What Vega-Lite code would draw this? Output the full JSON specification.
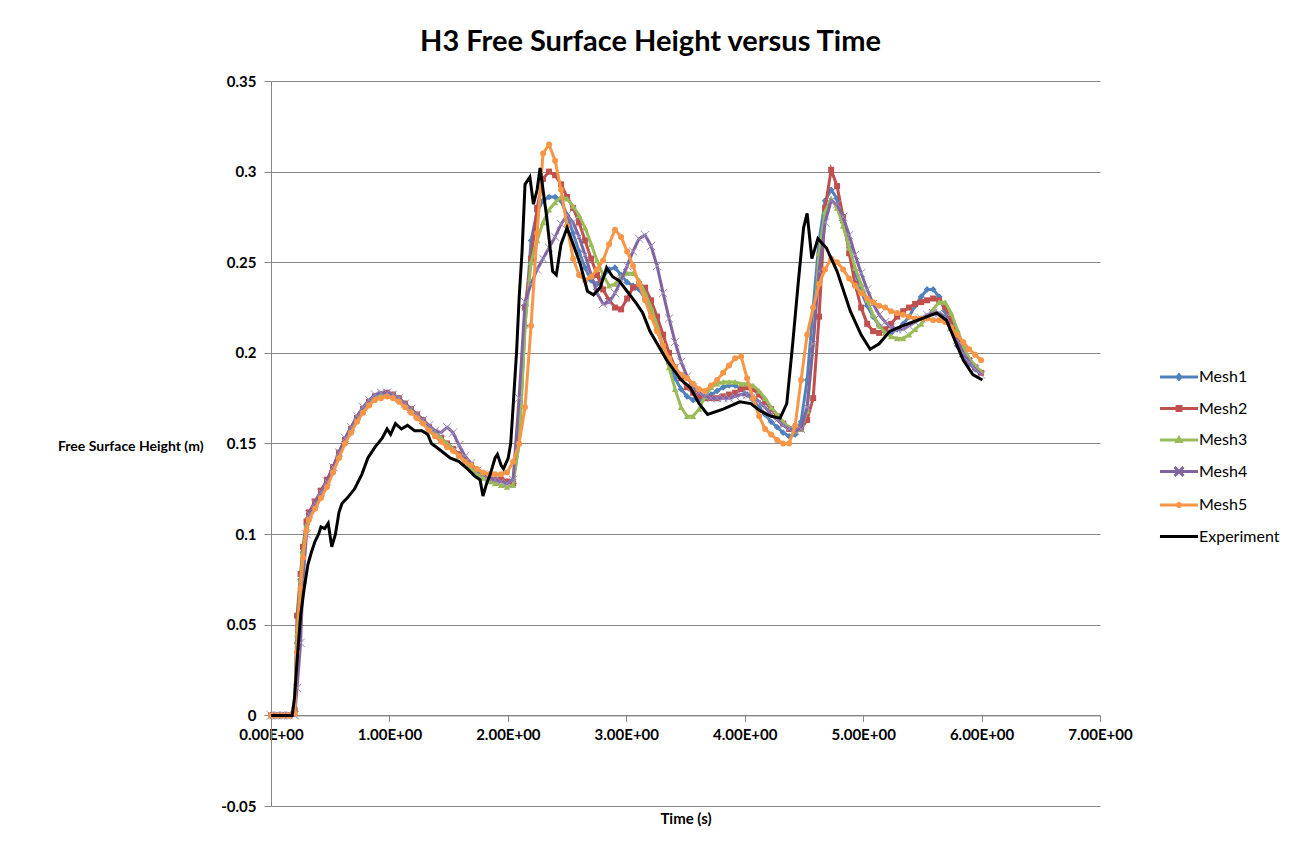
{
"$schema":"https://vega.github.io/schema/vega-lite/v6.json",
"width":829,"height":725,
"autosize":{"type":"none"},
"padding":{"left":271,"top":81,"right":198,"bottom":43},
"background":"white",
"config":{"font":"Lato","view":{"stroke":null}},
"title":{"text":"H3 Free Surface Height versus Time","fontSize":29,"fontWeight":"bold","font":"Lato","color":"#000000","anchor":"middle","dx":-35,"offset":17},
"datasets":{"d":[
{"s":"Mesh1","t":0,"v":0},{"s":"Mesh1","t":0.05,"v":0},{"s":"Mesh1","t":0.1,"v":0},{"s":"Mesh1","t":0.15,"v":0},{"s":"Mesh1","t":0.2,"v":0.002},{"s":"Mesh1","t":0.22,"v":0.04},{"s":"Mesh1","t":0.25,"v":0.075},{"s":"Mesh1","t":0.27,"v":0.09},{"s":"Mesh1","t":0.3,"v":0.105},
{"s":"Mesh1","t":0.321,"v":0.110},{"s":"Mesh1","t":0.372,"v":0.116},{"s":"Mesh1","t":0.422,"v":0.122},{"s":"Mesh1","t":0.473,"v":0.128},{"s":"Mesh1","t":0.524,"v":0.136},{"s":"Mesh1","t":0.574,"v":0.144},{"s":"Mesh1","t":0.625,"v":0.152},{"s":"Mesh1","t":0.676,"v":0.158},{"s":"Mesh1","t":0.726,"v":0.164},{"s":"Mesh1","t":0.777,"v":0.169},{"s":"Mesh1","t":0.828,"v":0.173},{"s":"Mesh1","t":0.878,"v":0.176},{"s":"Mesh1","t":0.929,"v":0.177},{"s":"Mesh1","t":0.98,"v":0.178},{"s":"Mesh1","t":1.03,"v":0.177},{"s":"Mesh1","t":1.081,"v":0.175},{"s":"Mesh1","t":1.132,"v":0.172},{"s":"Mesh1","t":1.182,"v":0.169},{"s":"Mesh1","t":1.233,"v":0.166},{"s":"Mesh1","t":1.284,"v":0.163},{"s":"Mesh1","t":1.335,"v":0.159},{"s":"Mesh1","t":1.385,"v":0.156},{"s":"Mesh1","t":1.436,"v":0.153},{"s":"Mesh1","t":1.487,"v":0.150},{"s":"Mesh1","t":1.537,"v":0.147},{"s":"Mesh1","t":1.588,"v":0.144},{"s":"Mesh1","t":1.639,"v":0.141},{"s":"Mesh1","t":1.689,"v":0.138},{"s":"Mesh1","t":1.74,"v":0.135},{"s":"Mesh1","t":1.791,"v":0.133},{"s":"Mesh1","t":1.841,"v":0.131},{"s":"Mesh1","t":1.892,"v":0.130},
{"s":"Mesh1","t":1.943,"v":0.130},{"s":"Mesh1","t":1.993,"v":0.129},{"s":"Mesh1","t":2.044,"v":0.130},{"s":"Mesh1","t":2.095,"v":0.150},{"s":"Mesh1","t":2.145,"v":0.215},{"s":"Mesh1","t":2.196,"v":0.262},{"s":"Mesh1","t":2.247,"v":0.278},{"s":"Mesh1","t":2.297,"v":0.284},{"s":"Mesh1","t":2.348,"v":0.286},{"s":"Mesh1","t":2.399,"v":0.286},{"s":"Mesh1","t":2.449,"v":0.284},{"s":"Mesh1","t":2.5,"v":0.276},{"s":"Mesh1","t":2.551,"v":0.266},{"s":"Mesh1","t":2.601,"v":0.256},{"s":"Mesh1","t":2.652,"v":0.247},{"s":"Mesh1","t":2.703,"v":0.240},{"s":"Mesh1","t":2.753,"v":0.238},{"s":"Mesh1","t":2.804,"v":0.242},{"s":"Mesh1","t":2.855,"v":0.246},{"s":"Mesh1","t":2.905,"v":0.247},{"s":"Mesh1","t":2.956,"v":0.243},{"s":"Mesh1","t":3.007,"v":0.239},{"s":"Mesh1","t":3.057,"v":0.237},{"s":"Mesh1","t":3.108,"v":0.235},{"s":"Mesh1","t":3.159,"v":0.230},{"s":"Mesh1","t":3.209,"v":0.222},{"s":"Mesh1","t":3.26,"v":0.213},{"s":"Mesh1","t":3.311,"v":0.203},{"s":"Mesh1","t":3.361,"v":0.194},{"s":"Mesh1","t":3.412,"v":0.186},{"s":"Mesh1","t":3.463,"v":0.180},{"s":"Mesh1","t":3.513,"v":0.176},{"s":"Mesh1","t":3.564,"v":0.174},{"s":"Mesh1","t":3.615,"v":0.174},{"s":"Mesh1","t":3.665,"v":0.176},{"s":"Mesh1","t":3.716,"v":0.177},{"s":"Mesh1","t":3.767,"v":0.179},{"s":"Mesh1","t":3.818,"v":0.181},{"s":"Mesh1","t":3.868,"v":0.182},{"s":"Mesh1","t":3.919,"v":0.182},{"s":"Mesh1","t":3.97,"v":0.180},{"s":"Mesh1","t":4.02,"v":0.177},{"s":"Mesh1","t":4.071,"v":0.174},{"s":"Mesh1","t":4.122,"v":0.170},{"s":"Mesh1","t":4.172,"v":0.166},{"s":"Mesh1","t":4.223,"v":0.162},{"s":"Mesh1","t":4.274,"v":0.159},{"s":"Mesh1","t":4.324,"v":0.156},{"s":"Mesh1","t":4.375,"v":0.154},{"s":"Mesh1","t":4.426,"v":0.155},{"s":"Mesh1","t":4.476,"v":0.162},{"s":"Mesh1","t":4.527,"v":0.185},{"s":"Mesh1","t":4.578,"v":0.225},{"s":"Mesh1","t":4.628,"v":0.262},{"s":"Mesh1","t":4.679,"v":0.284},{"s":"Mesh1","t":4.73,"v":0.290},{"s":"Mesh1","t":4.78,"v":0.285},{"s":"Mesh1","t":4.831,"v":0.272},{"s":"Mesh1","t":4.882,"v":0.258},{"s":"Mesh1","t":4.932,"v":0.245},{"s":"Mesh1","t":4.983,"v":0.234},{"s":"Mesh1","t":5.034,"v":0.226},{"s":"Mesh1","t":5.084,"v":0.220},{"s":"Mesh1","t":5.135,"v":0.215},{"s":"Mesh1","t":5.186,"v":0.212},{"s":"Mesh1","t":5.236,"v":0.211},{"s":"Mesh1","t":5.287,"v":0.213},{"s":"Mesh1","t":5.338,"v":0.216},{"s":"Mesh1","t":5.388,"v":0.220},{"s":"Mesh1","t":5.439,"v":0.226},{"s":"Mesh1","t":5.49,"v":0.231},{"s":"Mesh1","t":5.54,"v":0.235},{"s":"Mesh1","t":5.591,"v":0.235},{"s":"Mesh1","t":5.642,"v":0.231},{"s":"Mesh1","t":5.692,"v":0.223},{"s":"Mesh1","t":5.743,"v":0.213},{"s":"Mesh1","t":5.794,"v":0.204},{"s":"Mesh1","t":5.845,"v":0.198},{"s":"Mesh1","t":5.895,"v":0.194},{"s":"Mesh1","t":5.946,"v":0.191},{"s":"Mesh1","t":5.996,"v":0.189},

{"s":"Mesh2","t":0,"v":0},{"s":"Mesh2","t":0.05,"v":0},{"s":"Mesh2","t":0.1,"v":0},{"s":"Mesh2","t":0.15,"v":0},{"s":"Mesh2","t":0.2,"v":0.003},{"s":"Mesh2","t":0.22,"v":0.055},{"s":"Mesh2","t":0.25,"v":0.078},{"s":"Mesh2","t":0.27,"v":0.093},{"s":"Mesh2","t":0.3,"v":0.107},
{"s":"Mesh2","t":0.321,"v":0.112},{"s":"Mesh2","t":0.372,"v":0.118},{"s":"Mesh2","t":0.422,"v":0.124},{"s":"Mesh2","t":0.473,"v":0.130},{"s":"Mesh2","t":0.524,"v":0.137},{"s":"Mesh2","t":0.574,"v":0.145},{"s":"Mesh2","t":0.625,"v":0.152},{"s":"Mesh2","t":0.676,"v":0.158},{"s":"Mesh2","t":0.726,"v":0.164},{"s":"Mesh2","t":0.777,"v":0.169},{"s":"Mesh2","t":0.828,"v":0.173},{"s":"Mesh2","t":0.878,"v":0.176},{"s":"Mesh2","t":0.929,"v":0.177},{"s":"Mesh2","t":0.98,"v":0.178},{"s":"Mesh2","t":1.03,"v":0.177},{"s":"Mesh2","t":1.081,"v":0.175},{"s":"Mesh2","t":1.132,"v":0.172},{"s":"Mesh2","t":1.182,"v":0.169},{"s":"Mesh2","t":1.233,"v":0.166},{"s":"Mesh2","t":1.284,"v":0.163},{"s":"Mesh2","t":1.335,"v":0.159},{"s":"Mesh2","t":1.385,"v":0.156},{"s":"Mesh2","t":1.436,"v":0.153},{"s":"Mesh2","t":1.487,"v":0.150},{"s":"Mesh2","t":1.537,"v":0.147},{"s":"Mesh2","t":1.588,"v":0.144},{"s":"Mesh2","t":1.639,"v":0.141},{"s":"Mesh2","t":1.689,"v":0.138},{"s":"Mesh2","t":1.74,"v":0.135},{"s":"Mesh2","t":1.791,"v":0.133},{"s":"Mesh2","t":1.841,"v":0.131},{"s":"Mesh2","t":1.892,"v":0.130},
{"s":"Mesh2","t":1.943,"v":0.130},{"s":"Mesh2","t":1.993,"v":0.129},{"s":"Mesh2","t":2.044,"v":0.128},{"s":"Mesh2","t":2.095,"v":0.160},{"s":"Mesh2","t":2.145,"v":0.225},{"s":"Mesh2","t":2.196,"v":0.252},{"s":"Mesh2","t":2.247,"v":0.280},{"s":"Mesh2","t":2.297,"v":0.296},{"s":"Mesh2","t":2.348,"v":0.300},{"s":"Mesh2","t":2.399,"v":0.298},{"s":"Mesh2","t":2.449,"v":0.293},{"s":"Mesh2","t":2.5,"v":0.286},{"s":"Mesh2","t":2.551,"v":0.280},{"s":"Mesh2","t":2.601,"v":0.272},{"s":"Mesh2","t":2.652,"v":0.262},{"s":"Mesh2","t":2.703,"v":0.252},{"s":"Mesh2","t":2.753,"v":0.243},{"s":"Mesh2","t":2.804,"v":0.235},{"s":"Mesh2","t":2.855,"v":0.229},{"s":"Mesh2","t":2.905,"v":0.225},{"s":"Mesh2","t":2.956,"v":0.224},{"s":"Mesh2","t":3.007,"v":0.230},{"s":"Mesh2","t":3.057,"v":0.236},{"s":"Mesh2","t":3.108,"v":0.238},{"s":"Mesh2","t":3.159,"v":0.236},{"s":"Mesh2","t":3.209,"v":0.229},{"s":"Mesh2","t":3.26,"v":0.220},{"s":"Mesh2","t":3.311,"v":0.210},{"s":"Mesh2","t":3.361,"v":0.200},{"s":"Mesh2","t":3.412,"v":0.192},{"s":"Mesh2","t":3.463,"v":0.186},{"s":"Mesh2","t":3.513,"v":0.181},{"s":"Mesh2","t":3.564,"v":0.178},{"s":"Mesh2","t":3.615,"v":0.176},{"s":"Mesh2","t":3.665,"v":0.175},{"s":"Mesh2","t":3.716,"v":0.175},{"s":"Mesh2","t":3.767,"v":0.175},{"s":"Mesh2","t":3.818,"v":0.176},{"s":"Mesh2","t":3.868,"v":0.177},{"s":"Mesh2","t":3.919,"v":0.178},{"s":"Mesh2","t":3.97,"v":0.180},{"s":"Mesh2","t":4.02,"v":0.181},{"s":"Mesh2","t":4.071,"v":0.180},{"s":"Mesh2","t":4.122,"v":0.177},{"s":"Mesh2","t":4.172,"v":0.173},{"s":"Mesh2","t":4.223,"v":0.169},{"s":"Mesh2","t":4.274,"v":0.165},{"s":"Mesh2","t":4.324,"v":0.161},{"s":"Mesh2","t":4.375,"v":0.158},{"s":"Mesh2","t":4.426,"v":0.157},{"s":"Mesh2","t":4.476,"v":0.158},{"s":"Mesh2","t":4.527,"v":0.163},{"s":"Mesh2","t":4.578,"v":0.175},{"s":"Mesh2","t":4.628,"v":0.220},{"s":"Mesh2","t":4.679,"v":0.280},{"s":"Mesh2","t":4.73,"v":0.301},{"s":"Mesh2","t":4.78,"v":0.292},{"s":"Mesh2","t":4.831,"v":0.275},{"s":"Mesh2","t":4.882,"v":0.255},{"s":"Mesh2","t":4.932,"v":0.238},{"s":"Mesh2","t":4.983,"v":0.225},{"s":"Mesh2","t":5.034,"v":0.216},{"s":"Mesh2","t":5.084,"v":0.212},{"s":"Mesh2","t":5.135,"v":0.211},{"s":"Mesh2","t":5.186,"v":0.213},{"s":"Mesh2","t":5.236,"v":0.216},{"s":"Mesh2","t":5.287,"v":0.220},{"s":"Mesh2","t":5.338,"v":0.223},{"s":"Mesh2","t":5.388,"v":0.225},{"s":"Mesh2","t":5.439,"v":0.227},{"s":"Mesh2","t":5.49,"v":0.228},{"s":"Mesh2","t":5.54,"v":0.229},{"s":"Mesh2","t":5.591,"v":0.230},{"s":"Mesh2","t":5.642,"v":0.229},{"s":"Mesh2","t":5.692,"v":0.225},{"s":"Mesh2","t":5.743,"v":0.218},{"s":"Mesh2","t":5.794,"v":0.210},{"s":"Mesh2","t":5.845,"v":0.202},{"s":"Mesh2","t":5.895,"v":0.196},{"s":"Mesh2","t":5.946,"v":0.192},{"s":"Mesh2","t":5.996,"v":0.189},

{"s":"Mesh3","t":0,"v":0},{"s":"Mesh3","t":0.05,"v":0},{"s":"Mesh3","t":0.1,"v":0},{"s":"Mesh3","t":0.15,"v":0},{"s":"Mesh3","t":0.2,"v":0.002},{"s":"Mesh3","t":0.22,"v":0.045},{"s":"Mesh3","t":0.25,"v":0.075},{"s":"Mesh3","t":0.27,"v":0.09},{"s":"Mesh3","t":0.3,"v":0.105},
{"s":"Mesh3","t":0.321,"v":0.110},{"s":"Mesh3","t":0.372,"v":0.116},{"s":"Mesh3","t":0.422,"v":0.122},{"s":"Mesh3","t":0.473,"v":0.128},{"s":"Mesh3","t":0.524,"v":0.136},{"s":"Mesh3","t":0.574,"v":0.144},{"s":"Mesh3","t":0.625,"v":0.152},{"s":"Mesh3","t":0.676,"v":0.158},{"s":"Mesh3","t":0.726,"v":0.164},{"s":"Mesh3","t":0.777,"v":0.169},{"s":"Mesh3","t":0.828,"v":0.173},{"s":"Mesh3","t":0.878,"v":0.176},{"s":"Mesh3","t":0.929,"v":0.177},{"s":"Mesh3","t":0.98,"v":0.177},{"s":"Mesh3","t":1.03,"v":0.177},{"s":"Mesh3","t":1.081,"v":0.175},{"s":"Mesh3","t":1.132,"v":0.172},{"s":"Mesh3","t":1.182,"v":0.169},{"s":"Mesh3","t":1.233,"v":0.166},{"s":"Mesh3","t":1.284,"v":0.163},{"s":"Mesh3","t":1.335,"v":0.159},{"s":"Mesh3","t":1.385,"v":0.156},{"s":"Mesh3","t":1.436,"v":0.153},{"s":"Mesh3","t":1.487,"v":0.150},{"s":"Mesh3","t":1.537,"v":0.147},{"s":"Mesh3","t":1.588,"v":0.143},{"s":"Mesh3","t":1.639,"v":0.140},{"s":"Mesh3","t":1.689,"v":0.136},{"s":"Mesh3","t":1.74,"v":0.133},{"s":"Mesh3","t":1.791,"v":0.131},{"s":"Mesh3","t":1.841,"v":0.129},{"s":"Mesh3","t":1.892,"v":0.128},
{"s":"Mesh3","t":1.943,"v":0.127},{"s":"Mesh3","t":1.993,"v":0.126},{"s":"Mesh3","t":2.044,"v":0.127},{"s":"Mesh3","t":2.095,"v":0.150},{"s":"Mesh3","t":2.145,"v":0.215},{"s":"Mesh3","t":2.196,"v":0.250},{"s":"Mesh3","t":2.247,"v":0.262},{"s":"Mesh3","t":2.297,"v":0.272},{"s":"Mesh3","t":2.348,"v":0.279},{"s":"Mesh3","t":2.399,"v":0.283},{"s":"Mesh3","t":2.449,"v":0.286},{"s":"Mesh3","t":2.5,"v":0.285},{"s":"Mesh3","t":2.551,"v":0.281},{"s":"Mesh3","t":2.601,"v":0.276},{"s":"Mesh3","t":2.652,"v":0.269},{"s":"Mesh3","t":2.703,"v":0.260},{"s":"Mesh3","t":2.753,"v":0.251},{"s":"Mesh3","t":2.804,"v":0.243},{"s":"Mesh3","t":2.855,"v":0.237},{"s":"Mesh3","t":2.905,"v":0.238},{"s":"Mesh3","t":2.956,"v":0.242},{"s":"Mesh3","t":3.007,"v":0.244},{"s":"Mesh3","t":3.057,"v":0.244},{"s":"Mesh3","t":3.108,"v":0.240},{"s":"Mesh3","t":3.159,"v":0.233},{"s":"Mesh3","t":3.209,"v":0.225},{"s":"Mesh3","t":3.26,"v":0.215},{"s":"Mesh3","t":3.311,"v":0.204},{"s":"Mesh3","t":3.361,"v":0.192},{"s":"Mesh3","t":3.412,"v":0.180},{"s":"Mesh3","t":3.463,"v":0.170},{"s":"Mesh3","t":3.513,"v":0.165},{"s":"Mesh3","t":3.564,"v":0.165},{"s":"Mesh3","t":3.615,"v":0.169},{"s":"Mesh3","t":3.665,"v":0.176},{"s":"Mesh3","t":3.716,"v":0.181},{"s":"Mesh3","t":3.767,"v":0.183},{"s":"Mesh3","t":3.818,"v":0.184},{"s":"Mesh3","t":3.868,"v":0.184},{"s":"Mesh3","t":3.919,"v":0.184},{"s":"Mesh3","t":3.97,"v":0.183},{"s":"Mesh3","t":4.02,"v":0.183},{"s":"Mesh3","t":4.071,"v":0.182},{"s":"Mesh3","t":4.122,"v":0.179},{"s":"Mesh3","t":4.172,"v":0.175},{"s":"Mesh3","t":4.223,"v":0.170},{"s":"Mesh3","t":4.274,"v":0.166},{"s":"Mesh3","t":4.324,"v":0.162},{"s":"Mesh3","t":4.375,"v":0.159},{"s":"Mesh3","t":4.426,"v":0.157},{"s":"Mesh3","t":4.476,"v":0.158},{"s":"Mesh3","t":4.527,"v":0.168},{"s":"Mesh3","t":4.578,"v":0.205},{"s":"Mesh3","t":4.628,"v":0.255},{"s":"Mesh3","t":4.679,"v":0.278},{"s":"Mesh3","t":4.73,"v":0.285},{"s":"Mesh3","t":4.78,"v":0.280},{"s":"Mesh3","t":4.831,"v":0.270},{"s":"Mesh3","t":4.882,"v":0.258},{"s":"Mesh3","t":4.932,"v":0.247},{"s":"Mesh3","t":4.983,"v":0.238},{"s":"Mesh3","t":5.034,"v":0.229},{"s":"Mesh3","t":5.084,"v":0.221},{"s":"Mesh3","t":5.135,"v":0.215},{"s":"Mesh3","t":5.186,"v":0.211},{"s":"Mesh3","t":5.236,"v":0.209},{"s":"Mesh3","t":5.287,"v":0.208},{"s":"Mesh3","t":5.338,"v":0.208},{"s":"Mesh3","t":5.388,"v":0.210},{"s":"Mesh3","t":5.439,"v":0.213},{"s":"Mesh3","t":5.49,"v":0.216},{"s":"Mesh3","t":5.54,"v":0.220},{"s":"Mesh3","t":5.591,"v":0.224},{"s":"Mesh3","t":5.642,"v":0.228},{"s":"Mesh3","t":5.692,"v":0.228},{"s":"Mesh3","t":5.743,"v":0.222},{"s":"Mesh3","t":5.794,"v":0.213},{"s":"Mesh3","t":5.845,"v":0.204},{"s":"Mesh3","t":5.895,"v":0.197},{"s":"Mesh3","t":5.946,"v":0.193},{"s":"Mesh3","t":5.996,"v":0.190},

{"s":"Mesh4","t":0,"v":0},{"s":"Mesh4","t":0.05,"v":0},{"s":"Mesh4","t":0.1,"v":0},{"s":"Mesh4","t":0.15,"v":0},{"s":"Mesh4","t":0.2,"v":0},{"s":"Mesh4","t":0.22,"v":0.015},{"s":"Mesh4","t":0.25,"v":0.04},{"s":"Mesh4","t":0.27,"v":0.075},{"s":"Mesh4","t":0.3,"v":0.1},
{"s":"Mesh4","t":0.321,"v":0.111},{"s":"Mesh4","t":0.372,"v":0.117},{"s":"Mesh4","t":0.422,"v":0.123},{"s":"Mesh4","t":0.473,"v":0.129},{"s":"Mesh4","t":0.524,"v":0.137},{"s":"Mesh4","t":0.574,"v":0.145},{"s":"Mesh4","t":0.625,"v":0.153},{"s":"Mesh4","t":0.676,"v":0.159},{"s":"Mesh4","t":0.726,"v":0.165},{"s":"Mesh4","t":0.777,"v":0.170},{"s":"Mesh4","t":0.828,"v":0.174},{"s":"Mesh4","t":0.878,"v":0.177},{"s":"Mesh4","t":0.929,"v":0.178},{"s":"Mesh4","t":0.98,"v":0.178},{"s":"Mesh4","t":1.03,"v":0.177},{"s":"Mesh4","t":1.081,"v":0.175},{"s":"Mesh4","t":1.132,"v":0.172},{"s":"Mesh4","t":1.182,"v":0.169},{"s":"Mesh4","t":1.233,"v":0.166},{"s":"Mesh4","t":1.284,"v":0.163},{"s":"Mesh4","t":1.335,"v":0.160},{"s":"Mesh4","t":1.385,"v":0.157},{"s":"Mesh4","t":1.436,"v":0.156},{"s":"Mesh4","t":1.487,"v":0.159},{"s":"Mesh4","t":1.537,"v":0.156},{"s":"Mesh4","t":1.588,"v":0.149},{"s":"Mesh4","t":1.639,"v":0.143},{"s":"Mesh4","t":1.689,"v":0.139},{"s":"Mesh4","t":1.74,"v":0.135},{"s":"Mesh4","t":1.791,"v":0.133},{"s":"Mesh4","t":1.841,"v":0.131},{"s":"Mesh4","t":1.892,"v":0.130},
{"s":"Mesh4","t":1.943,"v":0.129},{"s":"Mesh4","t":1.993,"v":0.128},{"s":"Mesh4","t":2.044,"v":0.130},{"s":"Mesh4","t":2.095,"v":0.175},{"s":"Mesh4","t":2.145,"v":0.228},{"s":"Mesh4","t":2.196,"v":0.238},{"s":"Mesh4","t":2.247,"v":0.246},{"s":"Mesh4","t":2.297,"v":0.252},{"s":"Mesh4","t":2.348,"v":0.258},{"s":"Mesh4","t":2.399,"v":0.264},{"s":"Mesh4","t":2.449,"v":0.271},{"s":"Mesh4","t":2.5,"v":0.276},{"s":"Mesh4","t":2.551,"v":0.272},{"s":"Mesh4","t":2.601,"v":0.264},{"s":"Mesh4","t":2.652,"v":0.254},{"s":"Mesh4","t":2.703,"v":0.243},{"s":"Mesh4","t":2.753,"v":0.233},{"s":"Mesh4","t":2.804,"v":0.227},{"s":"Mesh4","t":2.855,"v":0.228},{"s":"Mesh4","t":2.905,"v":0.233},{"s":"Mesh4","t":2.956,"v":0.240},{"s":"Mesh4","t":3.007,"v":0.248},{"s":"Mesh4","t":3.057,"v":0.256},{"s":"Mesh4","t":3.108,"v":0.263},{"s":"Mesh4","t":3.159,"v":0.265},{"s":"Mesh4","t":3.209,"v":0.259},{"s":"Mesh4","t":3.26,"v":0.248},{"s":"Mesh4","t":3.311,"v":0.233},{"s":"Mesh4","t":3.361,"v":0.219},{"s":"Mesh4","t":3.412,"v":0.206},{"s":"Mesh4","t":3.463,"v":0.195},{"s":"Mesh4","t":3.513,"v":0.187},{"s":"Mesh4","t":3.564,"v":0.181},{"s":"Mesh4","t":3.615,"v":0.178},{"s":"Mesh4","t":3.665,"v":0.176},{"s":"Mesh4","t":3.716,"v":0.175},{"s":"Mesh4","t":3.767,"v":0.175},{"s":"Mesh4","t":3.818,"v":0.175},{"s":"Mesh4","t":3.868,"v":0.175},{"s":"Mesh4","t":3.919,"v":0.176},{"s":"Mesh4","t":3.97,"v":0.177},{"s":"Mesh4","t":4.02,"v":0.177},{"s":"Mesh4","t":4.071,"v":0.176},{"s":"Mesh4","t":4.122,"v":0.173},{"s":"Mesh4","t":4.172,"v":0.170},{"s":"Mesh4","t":4.223,"v":0.166},{"s":"Mesh4","t":4.274,"v":0.163},{"s":"Mesh4","t":4.324,"v":0.160},{"s":"Mesh4","t":4.375,"v":0.158},{"s":"Mesh4","t":4.426,"v":0.157},{"s":"Mesh4","t":4.476,"v":0.158},{"s":"Mesh4","t":4.527,"v":0.170},{"s":"Mesh4","t":4.578,"v":0.205},{"s":"Mesh4","t":4.628,"v":0.245},{"s":"Mesh4","t":4.679,"v":0.272},{"s":"Mesh4","t":4.73,"v":0.284},{"s":"Mesh4","t":4.78,"v":0.282},{"s":"Mesh4","t":4.831,"v":0.275},{"s":"Mesh4","t":4.882,"v":0.265},{"s":"Mesh4","t":4.932,"v":0.254},{"s":"Mesh4","t":4.983,"v":0.244},{"s":"Mesh4","t":5.034,"v":0.235},{"s":"Mesh4","t":5.084,"v":0.227},{"s":"Mesh4","t":5.135,"v":0.221},{"s":"Mesh4","t":5.186,"v":0.217},{"s":"Mesh4","t":5.236,"v":0.214},{"s":"Mesh4","t":5.287,"v":0.213},{"s":"Mesh4","t":5.338,"v":0.213},{"s":"Mesh4","t":5.388,"v":0.215},{"s":"Mesh4","t":5.439,"v":0.217},{"s":"Mesh4","t":5.49,"v":0.219},{"s":"Mesh4","t":5.54,"v":0.221},{"s":"Mesh4","t":5.591,"v":0.222},{"s":"Mesh4","t":5.642,"v":0.222},{"s":"Mesh4","t":5.692,"v":0.220},{"s":"Mesh4","t":5.743,"v":0.214},{"s":"Mesh4","t":5.794,"v":0.207},{"s":"Mesh4","t":5.845,"v":0.200},{"s":"Mesh4","t":5.895,"v":0.195},{"s":"Mesh4","t":5.946,"v":0.191},{"s":"Mesh4","t":5.996,"v":0.188},

{"s":"Mesh5","t":0,"v":0},{"s":"Mesh5","t":0.05,"v":0},{"s":"Mesh5","t":0.1,"v":0},{"s":"Mesh5","t":0.15,"v":0},{"s":"Mesh5","t":0.2,"v":0.001},{"s":"Mesh5","t":0.22,"v":0.035},{"s":"Mesh5","t":0.25,"v":0.07},{"s":"Mesh5","t":0.27,"v":0.087},{"s":"Mesh5","t":0.3,"v":0.102},
{"s":"Mesh5","t":0.321,"v":0.108},{"s":"Mesh5","t":0.372,"v":0.114},{"s":"Mesh5","t":0.422,"v":0.120},{"s":"Mesh5","t":0.473,"v":0.126},{"s":"Mesh5","t":0.524,"v":0.134},{"s":"Mesh5","t":0.574,"v":0.142},{"s":"Mesh5","t":0.625,"v":0.150},{"s":"Mesh5","t":0.676,"v":0.156},{"s":"Mesh5","t":0.726,"v":0.162},{"s":"Mesh5","t":0.777,"v":0.167},{"s":"Mesh5","t":0.828,"v":0.171},{"s":"Mesh5","t":0.878,"v":0.174},{"s":"Mesh5","t":0.929,"v":0.175},{"s":"Mesh5","t":0.98,"v":0.176},{"s":"Mesh5","t":1.03,"v":0.175},{"s":"Mesh5","t":1.081,"v":0.173},{"s":"Mesh5","t":1.132,"v":0.170},{"s":"Mesh5","t":1.182,"v":0.167},{"s":"Mesh5","t":1.233,"v":0.164},{"s":"Mesh5","t":1.284,"v":0.161},{"s":"Mesh5","t":1.335,"v":0.157},{"s":"Mesh5","t":1.385,"v":0.154},{"s":"Mesh5","t":1.436,"v":0.151},{"s":"Mesh5","t":1.487,"v":0.148},{"s":"Mesh5","t":1.537,"v":0.146},{"s":"Mesh5","t":1.588,"v":0.143},{"s":"Mesh5","t":1.639,"v":0.140},{"s":"Mesh5","t":1.689,"v":0.138},{"s":"Mesh5","t":1.74,"v":0.136},{"s":"Mesh5","t":1.791,"v":0.134},{"s":"Mesh5","t":1.841,"v":0.133},{"s":"Mesh5","t":1.892,"v":0.133},
{"s":"Mesh5","t":1.943,"v":0.133},{"s":"Mesh5","t":1.993,"v":0.134},{"s":"Mesh5","t":2.044,"v":0.140},{"s":"Mesh5","t":2.095,"v":0.150},{"s":"Mesh5","t":2.145,"v":0.170},{"s":"Mesh5","t":2.196,"v":0.215},{"s":"Mesh5","t":2.247,"v":0.266},{"s":"Mesh5","t":2.297,"v":0.310},{"s":"Mesh5","t":2.348,"v":0.315},{"s":"Mesh5","t":2.399,"v":0.306},{"s":"Mesh5","t":2.449,"v":0.290},{"s":"Mesh5","t":2.5,"v":0.270},{"s":"Mesh5","t":2.551,"v":0.252},{"s":"Mesh5","t":2.601,"v":0.243},{"s":"Mesh5","t":2.652,"v":0.240},{"s":"Mesh5","t":2.703,"v":0.242},{"s":"Mesh5","t":2.753,"v":0.246},{"s":"Mesh5","t":2.804,"v":0.251},{"s":"Mesh5","t":2.855,"v":0.260},{"s":"Mesh5","t":2.905,"v":0.268},{"s":"Mesh5","t":2.956,"v":0.264},{"s":"Mesh5","t":3.007,"v":0.256},{"s":"Mesh5","t":3.057,"v":0.248},{"s":"Mesh5","t":3.108,"v":0.238},{"s":"Mesh5","t":3.159,"v":0.229},{"s":"Mesh5","t":3.209,"v":0.220},{"s":"Mesh5","t":3.26,"v":0.212},{"s":"Mesh5","t":3.311,"v":0.204},{"s":"Mesh5","t":3.361,"v":0.197},{"s":"Mesh5","t":3.412,"v":0.192},{"s":"Mesh5","t":3.463,"v":0.188},{"s":"Mesh5","t":3.513,"v":0.186},{"s":"Mesh5","t":3.564,"v":0.183},{"s":"Mesh5","t":3.615,"v":0.180},{"s":"Mesh5","t":3.665,"v":0.179},{"s":"Mesh5","t":3.716,"v":0.182},{"s":"Mesh5","t":3.767,"v":0.185},{"s":"Mesh5","t":3.818,"v":0.189},{"s":"Mesh5","t":3.868,"v":0.193},{"s":"Mesh5","t":3.919,"v":0.197},{"s":"Mesh5","t":3.97,"v":0.198},{"s":"Mesh5","t":4.02,"v":0.186},{"s":"Mesh5","t":4.071,"v":0.175},{"s":"Mesh5","t":4.122,"v":0.165},{"s":"Mesh5","t":4.172,"v":0.158},{"s":"Mesh5","t":4.223,"v":0.155},{"s":"Mesh5","t":4.274,"v":0.152},{"s":"Mesh5","t":4.324,"v":0.150},{"s":"Mesh5","t":4.375,"v":0.150},{"s":"Mesh5","t":4.426,"v":0.160},{"s":"Mesh5","t":4.476,"v":0.185},{"s":"Mesh5","t":4.527,"v":0.210},{"s":"Mesh5","t":4.578,"v":0.225},{"s":"Mesh5","t":4.628,"v":0.238},{"s":"Mesh5","t":4.679,"v":0.246},{"s":"Mesh5","t":4.73,"v":0.252},{"s":"Mesh5","t":4.78,"v":0.250},{"s":"Mesh5","t":4.831,"v":0.246},{"s":"Mesh5","t":4.882,"v":0.241},{"s":"Mesh5","t":4.932,"v":0.237},{"s":"Mesh5","t":4.983,"v":0.233},{"s":"Mesh5","t":5.034,"v":0.230},{"s":"Mesh5","t":5.084,"v":0.228},{"s":"Mesh5","t":5.135,"v":0.226},{"s":"Mesh5","t":5.186,"v":0.225},{"s":"Mesh5","t":5.236,"v":0.223},{"s":"Mesh5","t":5.287,"v":0.222},{"s":"Mesh5","t":5.338,"v":0.221},{"s":"Mesh5","t":5.388,"v":0.220},{"s":"Mesh5","t":5.439,"v":0.219},{"s":"Mesh5","t":5.49,"v":0.219},{"s":"Mesh5","t":5.54,"v":0.219},{"s":"Mesh5","t":5.591,"v":0.218},{"s":"Mesh5","t":5.642,"v":0.218},{"s":"Mesh5","t":5.692,"v":0.217},{"s":"Mesh5","t":5.743,"v":0.214},{"s":"Mesh5","t":5.794,"v":0.210},{"s":"Mesh5","t":5.845,"v":0.206},{"s":"Mesh5","t":5.895,"v":0.202},{"s":"Mesh5","t":5.946,"v":0.199},{"s":"Mesh5","t":5.996,"v":0.196},

{"s":"Experiment","t":0,"v":0},{"s":"Experiment","t":0.179,"v":0},{"s":"Experiment","t":0.199,"v":0.01},{"s":"Experiment","t":0.22,"v":0.03},{"s":"Experiment","t":0.25,"v":0.055},{"s":"Experiment","t":0.28,"v":0.07},{"s":"Experiment","t":0.311,"v":0.083},{"s":"Experiment","t":0.341,"v":0.09},{"s":"Experiment","t":0.372,"v":0.096},{"s":"Experiment","t":0.402,"v":0.1},{"s":"Experiment","t":0.422,"v":0.104},{"s":"Experiment","t":0.453,"v":0.103},{"s":"Experiment","t":0.483,"v":0.106},{"s":"Experiment","t":0.513,"v":0.093},{"s":"Experiment","t":0.544,"v":0.1},{"s":"Experiment","t":0.574,"v":0.112},{"s":"Experiment","t":0.6,"v":0.117},{"s":"Experiment","t":0.645,"v":0.12},{"s":"Experiment","t":0.706,"v":0.125},{"s":"Experiment","t":0.767,"v":0.133},{"s":"Experiment","t":0.818,"v":0.142},{"s":"Experiment","t":0.878,"v":0.148},{"s":"Experiment","t":0.939,"v":0.153},{"s":"Experiment","t":0.98,"v":0.158},{"s":"Experiment","t":1.01,"v":0.155},{"s":"Experiment","t":1.051,"v":0.161},{"s":"Experiment","t":1.101,"v":0.158},{"s":"Experiment","t":1.152,"v":0.16},{"s":"Experiment","t":1.213,"v":0.157},{"s":"Experiment","t":1.274,"v":0.157},{"s":"Experiment","t":1.324,"v":0.155},{"s":"Experiment","t":1.355,"v":0.15},{"s":"Experiment","t":1.436,"v":0.146},{"s":"Experiment","t":1.512,"v":0.142},{"s":"Experiment","t":1.588,"v":0.14},{"s":"Experiment","t":1.659,"v":0.136},{"s":"Experiment","t":1.72,"v":0.132},{"s":"Experiment","t":1.765,"v":0.13},{"s":"Experiment","t":1.79,"v":0.121},{"s":"Experiment","t":1.821,"v":0.128},{"s":"Experiment","t":1.851,"v":0.133},{"s":"Experiment","t":1.892,"v":0.142},{"s":"Experiment","t":1.912,"v":0.144},{"s":"Experiment","t":1.943,"v":0.138},{"s":"Experiment","t":1.963,"v":0.136},{"s":"Experiment","t":2.003,"v":0.142},{"s":"Experiment","t":2.024,"v":0.15},{"s":"Experiment","t":2.044,"v":0.17},{"s":"Experiment","t":2.074,"v":0.201},{"s":"Experiment","t":2.095,"v":0.23},{"s":"Experiment","t":2.12,"v":0.256},{"s":"Experiment","t":2.145,"v":0.293},{"s":"Experiment","t":2.186,"v":0.297},{"s":"Experiment","t":2.216,"v":0.282},{"s":"Experiment","t":2.247,"v":0.29},{"s":"Experiment","t":2.272,"v":0.302},{"s":"Experiment","t":2.297,"v":0.29},{"s":"Experiment","t":2.328,"v":0.275},{"s":"Experiment","t":2.378,"v":0.245},{"s":"Experiment","t":2.409,"v":0.243},{"s":"Experiment","t":2.449,"v":0.26},{"s":"Experiment","t":2.5,"v":0.269},{"s":"Experiment","t":2.551,"v":0.26},{"s":"Experiment","t":2.611,"v":0.249},{"s":"Experiment","t":2.672,"v":0.234},{"s":"Experiment","t":2.723,"v":0.232},{"s":"Experiment","t":2.779,"v":0.236},{"s":"Experiment","t":2.834,"v":0.247},{"s":"Experiment","t":2.885,"v":0.242},{"s":"Experiment","t":2.936,"v":0.24},{"s":"Experiment","t":3.007,"v":0.234},{"s":"Experiment","t":3.088,"v":0.227},{"s":"Experiment","t":3.139,"v":0.222},{"s":"Experiment","t":3.199,"v":0.212},{"s":"Experiment","t":3.341,"v":0.196},{"s":"Experiment","t":3.463,"v":0.185},{"s":"Experiment","t":3.539,"v":0.181},{"s":"Experiment","t":3.615,"v":0.172},{"s":"Experiment","t":3.686,"v":0.166},{"s":"Experiment","t":3.818,"v":0.169},{"s":"Experiment","t":3.959,"v":0.173},{"s":"Experiment","t":4.051,"v":0.172},{"s":"Experiment","t":4.132,"v":0.168},{"s":"Experiment","t":4.223,"v":0.165},{"s":"Experiment","t":4.299,"v":0.164},{"s":"Experiment","t":4.355,"v":0.172},{"s":"Experiment","t":4.405,"v":0.205},{"s":"Experiment","t":4.451,"v":0.238},{"s":"Experiment","t":4.497,"v":0.269},{"s":"Experiment","t":4.527,"v":0.277},{"s":"Experiment","t":4.567,"v":0.252},{"s":"Experiment","t":4.618,"v":0.263},{"s":"Experiment","t":4.689,"v":0.258},{"s":"Experiment","t":4.78,"v":0.245},{"s":"Experiment","t":4.892,"v":0.223},{"s":"Experiment","t":4.983,"v":0.21},{"s":"Experiment","t":5.059,"v":0.202},{"s":"Experiment","t":5.135,"v":0.205},{"s":"Experiment","t":5.226,"v":0.212},{"s":"Experiment","t":5.338,"v":0.215},{"s":"Experiment","t":5.459,"v":0.218},{"s":"Experiment","t":5.54,"v":0.22},{"s":"Experiment","t":5.621,"v":0.222},{"s":"Experiment","t":5.703,"v":0.218},{"s":"Experiment","t":5.774,"v":0.207},{"s":"Experiment","t":5.845,"v":0.196},{"s":"Experiment","t":5.926,"v":0.188},{"s":"Experiment","t":6.007,"v":0.185}
]},
"data":{"name":"d"},
"encoding":{
 "x":{"field":"t","type":"quantitative","scale":{"domain":[0,7],"nice":false,"zero":false},
  "axis":{"title":"Time (s)","values":[0,1,2,3,4,5,6,7],"labelExpr":"format(datum.value,'.2f')+'E+00'","offset":-90.6,"grid":false,"domainColor":"#868686","tickColor":"#868686","tickSize":6,"labelFont":"Lato","labelFontSize":15,"labelFontWeight":"bold","labelColor":"#000000","labelPadding":6,"labelFlush":false,"labelOverlap":false,"titleFont":"Lato","titleFontSize":15,"titleFontWeight":"bold","titleColor":"#000000","titleY":103,"titleBaseline":"middle"}},
 "y":{"field":"v","type":"quantitative","scale":{"domain":[-0.05,0.35],"nice":false,"zero":false},
  "axis":{"title":"Free Surface Height (m)","values":[-0.05,0,0.05,0.1,0.15,0.2,0.25,0.3,0.35],"labelExpr":"replace(format(datum.value,'.2~f'),'\u2212','-')","grid":true,"gridColor":"#868686","domainColor":"#868686","tickColor":"#868686","tickSize":7,"labelPadding":8,"labelFont":"Lato","labelFontSize":15,"labelFontWeight":"bold","labelColor":"#000000","labelFlush":false,"labelOverlap":false,"titleFont":"Lato","titleAngle":0,"titleX":-68,"titleY":365,"titleAlign":"right","titleBaseline":"middle","titleFontSize":14,"titleFontWeight":"bold","titleColor":"#000000"}}
},
"layer":[
 {"transform":[{"filter":"datum.s==='Mesh1'"}],"mark":{"type":"line","strokeWidth":3,"point":{"shape":"diamond","size":45,"filled":true}},
  "encoding":{"color":{"field":"s","type":"nominal","scale":{"domain":["Mesh1","Mesh2","Mesh3","Mesh4","Mesh5","Experiment"],"range":["#4f81bd","#c0504d","#9bbb59","#8064a2","#f79646","#000000"]},"legend":null}}},
 {"transform":[{"filter":"datum.s==='Mesh2'"}],"mark":{"type":"line","strokeWidth":3,"point":{"shape":"square","size":36,"filled":true}},
  "encoding":{"color":{"field":"s","type":"nominal","scale":{"domain":["Mesh1","Mesh2","Mesh3","Mesh4","Mesh5","Experiment"],"range":["#4f81bd","#c0504d","#9bbb59","#8064a2","#f79646","#000000"]},"legend":null}}},
 {"transform":[{"filter":"datum.s==='Mesh3'"}],"mark":{"type":"line","strokeWidth":3,"point":{"shape":"triangle-up","size":42,"filled":true}},
  "encoding":{"color":{"field":"s","type":"nominal","scale":{"domain":["Mesh1","Mesh2","Mesh3","Mesh4","Mesh5","Experiment"],"range":["#4f81bd","#c0504d","#9bbb59","#8064a2","#f79646","#000000"]},"legend":null}}},
 {"transform":[{"filter":"datum.s==='Mesh4'"}],"mark":{"type":"line","strokeWidth":3},
  "encoding":{"color":{"field":"s","type":"nominal","scale":{"domain":["Mesh1","Mesh2","Mesh3","Mesh4","Mesh5","Experiment"],"range":["#4f81bd","#c0504d","#9bbb59","#8064a2","#f79646","#000000"]},"legend":null}}},
 {"transform":[{"filter":"datum.s==='Mesh4'"}],"mark":{"type":"point","shape":"M-1,-1L1,1M-1,1L1,-1","size":70,"filled":false,"stroke":"#9c8bbd","strokeWidth":1,"opacity":1},
  "encoding":{}},
 {"transform":[{"filter":"datum.s==='Mesh5'"}],"mark":{"type":"line","strokeWidth":3,"point":{"shape":"circle","size":36,"filled":true}},
  "encoding":{"color":{"field":"s","type":"nominal","scale":{"domain":["Mesh1","Mesh2","Mesh3","Mesh4","Mesh5","Experiment"],"range":["#4f81bd","#c0504d","#9bbb59","#8064a2","#f79646","#000000"]},"legend":null}}},
 {"transform":[{"filter":"datum.s==='Experiment'"}],"mark":{"type":"line","strokeWidth":3},
  "encoding":{"color":{"field":"s","type":"nominal","scale":{"domain":["Mesh1","Mesh2","Mesh3","Mesh4","Mesh5","Experiment"],"range":["#4f81bd","#c0504d","#9bbb59","#8064a2","#f79646","#000000"]},"legend":null}}},
 {"transform":[{"filter":"datum.t < 0"}],"mark":{"type":"point","filled":false},
  "encoding":{
   "color":{"field":"s","type":"nominal","scale":{"domain":["Mesh1","Mesh2","Mesh3","Mesh4","Mesh5","Experiment"],"range":["#4f81bd","#c0504d","#9bbb59","#8064a2","#f79646","#000000"]},"legend":{"title":null,"orient":"none","legendX":892.5,"legendY":280.5,"symbolSize":784,"symbolStrokeWidth":3,"symbolOpacity":1,"labelFontSize":16,"labelFont":"Lato","labelColor":"#000000","labelOffset":4.5,"rowPadding":7.5,"padding":0}},
   "shape":{"field":"s","type":"nominal","scale":{"domain":["Mesh1","Mesh2","Mesh3","Mesh4","Mesh5","Experiment"],"range":["M-1.36,0H1.36M0,-0.16L0.13,0L0,0.16L-0.13,0Z","M-1.36,0H1.36M-0.14,-0.14H0.14V0.14H-0.14Z","M-1.36,0H1.36M0,-0.16L0.15,0.11L-0.15,0.11Z","M-1.36,0H1.36M-0.32,-0.32L0.32,0.32M-0.32,0.32L0.32,-0.32","M-1.36,0H1.36M-0.11,0A0.11,0.11 0 1,0 0.11,0A0.11,0.11 0 1,0 -0.11,0Z","M-1.36,0H1.36"]},
    "legend":{"title":null,"orient":"none","legendX":892.5,"legendY":280.5,"symbolSize":784,"symbolStrokeWidth":3,"symbolOpacity":1,"labelFontSize":16,"labelFont":"Lato","labelColor":"#000000","labelOffset":4.5,"rowPadding":7.5,"padding":0}}
  }}
],
"resolve":{"scale":{"color":"independent","shape":"independent"},"legend":{"color":"independent","shape":"independent"}}
}
